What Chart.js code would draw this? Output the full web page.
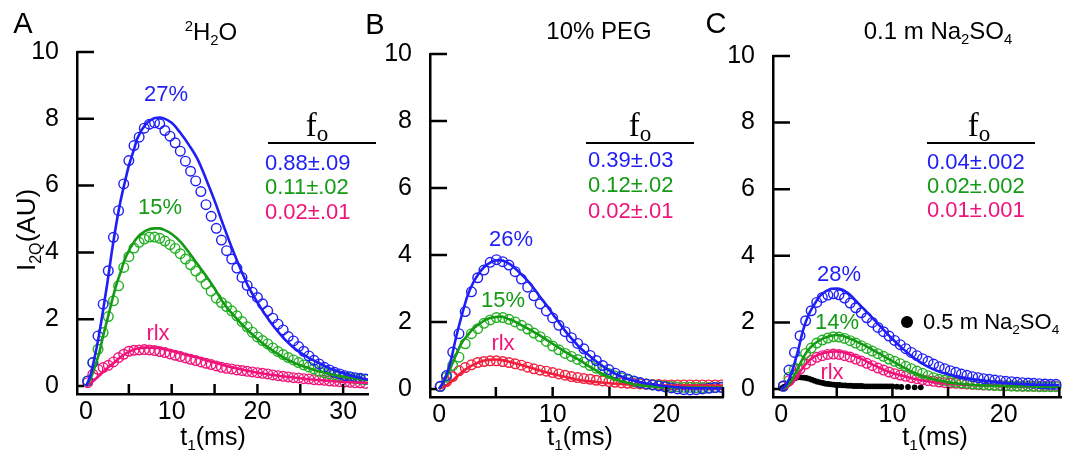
<!DOCTYPE html>
<html>
<head>
<meta charset="utf-8">
<script src="https://cdn.jsdelivr.net/npm/chart.js@4/dist/chart.umd.min.js"></script>
<style>
    body { margin: 0; background: #fff; }
    #wrap { position: relative; width: 1068px; height: 460px; overflow: hidden; background: #fff; }
    #wrap canvas { position: absolute; left: 0; top: 0; }
    .lbl { position: absolute; line-height: 1; white-space: nowrap; transform: translate(-50%, -50%);
           font-family: 'Liberation Sans', Arial, sans-serif; color: #000; z-index: 5; }
    .lbl.left { transform: translate(0, -50%); }
    .lbl.rot { transform: translate(-50%, -50%) rotate(-90deg); }
    .lbl sub { font-size: 0.62em; vertical-align: -0.35em; line-height: 0; }
    .lbl sup { font-size: 0.62em; vertical-align: 0.6em; line-height: 0; }
    .lbl.fo sub { font-size: 0.7em; vertical-align: -0.25em; }
    .rule { position: absolute; height: 2px; background: #000; z-index: 5; }
    .dot { position: absolute; width: 12px; height: 12px; border-radius: 50%; background: #000;
           transform: translate(-50%, -50%); z-index: 5; }
</style>
</head>
<body>
<div id="wrap">
    <canvas id="chartA" width="1068" height="460"></canvas>
    <canvas id="chartB" width="1068" height="460"></canvas>
    <canvas id="chartC" width="1068" height="460"></canvas>
</div>
<script>
// ---- Panel A: 2H2O ----
const tA = [0.2,0.8,1.4,2,2.6,3.2,3.8,4.4,5,5.6,6.2,6.8,7.4,8,8.6,9.2,9.8,10.4,11,11.6,12.2,12.8,13.4,14,14.6,15.2,15.8,16.4,17,17.6,18.2,18.8,19.4,20,20.6,21.2,21.8,22.4,23,23.6,24.2,24.8,25.4,26,26.6,27.2,27.8,28.4,29,29.6,30.2,30.8,31.4,32,32.6];
const blueA = [0.15,0.7,1.5,2.45,3.45,4.45,5.25,6.05,6.75,7.2,7.45,7.72,7.84,7.88,7.85,7.65,7.48,7.28,7.03,6.73,6.43,6.14,5.82,5.43,5.08,4.72,4.37,4.05,3.8,3.53,3.25,3.01,2.81,2.65,2.46,2.25,2.03,1.85,1.68,1.48,1.35,1.18,1.04,0.9,0.77,0.66,0.56,0.48,0.41,0.36,0.31,0.28,0.25,0.23,0.21];
const greenA = [0.15,0.7,1.1,1.6,2.08,2.55,3.0,3.55,3.87,4.13,4.3,4.4,4.46,4.46,4.42,4.34,4.23,4.12,3.96,3.8,3.63,3.44,3.25,3.05,2.84,2.63,2.5,2.38,2.25,2.1,1.93,1.77,1.61,1.47,1.36,1.26,1.14,1.03,0.94,0.85,0.78,0.7,0.63,0.57,0.51,0.44,0.4,0.36,0.33,0.3,0.27,0.25,0.22,0.2,0.19];
const pinkA = [0.1,0.35,0.5,0.55,0.62,0.72,0.85,0.95,1.04,1.07,1.08,1.09,1.08,1.06,1.03,1.0,0.96,0.92,0.88,0.84,0.8,0.76,0.72,0.68,0.64,0.6,0.56,0.53,0.51,0.48,0.46,0.44,0.42,0.4,0.38,0.36,0.33,0.31,0.29,0.27,0.25,0.24,0.22,0.21,0.19,0.18,0.17,0.15,0.14,0.13,0.12,0.11,0.1,0.09,0.08];
const fitTA = [0,0.5,1,1.5,2,2.5,3,3.5,4,4.5,5,5.5,6,7,8,8.6,9,10,11,12,13,14,15,16,17,18,19,20,21,22,23,24,25,26,27,28,29,30,31,32,33];
const blueFitA = [0,0.3,0.85,1.5,2.28,3.1,4.0,4.8,5.5,6.07,6.6,7.0,7.42,7.85,8.02,8.04,8.02,7.88,7.58,7.22,6.8,6.2,5.55,4.83,4.15,3.52,2.95,2.5,2.1,1.75,1.45,1.2,1.0,0.84,0.71,0.58,0.47,0.38,0.3,0.24,0.18];
const greenFitA = [0,0.2,0.55,0.95,1.5,2.0,2.52,3.0,3.38,3.77,4.05,4.27,4.45,4.65,4.72,4.72,4.69,4.55,4.32,4.0,3.65,3.3,2.92,2.5,2.18,1.9,1.64,1.41,1.2,1.02,0.86,0.73,0.62,0.53,0.45,0.39,0.33,0.28,0.24,0.2,0.17];
const pinkFitA = [0,0.08,0.18,0.3,0.42,0.54,0.64,0.75,0.86,0.95,1.03,1.08,1.12,1.15,1.15,1.13,1.11,1.05,0.98,0.91,0.85,0.77,0.7,0.63,0.56,0.5,0.45,0.4,0.36,0.32,0.29,0.26,0.23,0.2,0.18,0.16,0.14,0.12,0.11,0.1,0.09];

// ---- Panel B: 10% PEG ----
const tB = [0.1,0.65,1.2,1.75,2.3,2.85,3.4,3.95,4.5,5.05,5.6,6.15,6.7,7.25,7.8,8.35,8.9,9.45,10,10.55,11.1,11.65,12.2,12.75,13.3,13.85,14.4,14.95,15.5,16.05,16.6,17.15,17.7,18.25,18.8,19.35,19.9,20.45,21,21.55,22.1,22.65,23.2,23.75,24.3,24.85];
const blueB = [0.08,0.4,1.1,1.65,2.31,2.9,3.32,3.55,3.78,3.86,3.8,3.7,3.5,3.28,3.04,2.78,2.54,2.33,2.12,1.9,1.71,1.53,1.36,1.2,1.0,0.85,0.7,0.58,0.47,0.38,0.3,0.24,0.19,0.15,0.12,0.09,0.06,0.03,0.0,-0.02,-0.03,-0.02,0.0,0.02,0.04,0.05];
const greenB = [0.07,0.35,0.7,0.95,1.35,1.65,1.8,1.96,2.06,2.13,2.13,2.08,2.0,1.9,1.79,1.67,1.56,1.42,1.28,1.17,1.06,0.97,0.88,0.8,0.7,0.62,0.54,0.46,0.39,0.33,0.27,0.22,0.18,0.15,0.12,0.1,0.08,0.07,0.06,0.05,0.05,0.04,0.04,0.04,0.04,0.05];
const redB = [0.07,0.22,0.37,0.54,0.64,0.72,0.79,0.82,0.84,0.84,0.82,0.79,0.75,0.71,0.65,0.6,0.56,0.53,0.49,0.45,0.41,0.37,0.34,0.31,0.29,0.26,0.24,0.22,0.2,0.18,0.17,0.16,0.15,0.14,0.13,0.13,0.12,0.12,0.12,0.12,0.12,0.12,0.12,0.12,0.12,0.12];
const fitTB = [0,0.5,1,1.5,2,2.5,3,3.5,4,4.5,5,5.5,6,6.5,7,7.5,8,8.5,9,9.5,10,10.5,11,11.5,12,12.5,13,14,15,16,17,18,19,20,21,22,23,24,25];
const blueFitB = [0,0.3,0.8,1.55,2.2,2.78,3.17,3.45,3.65,3.77,3.84,3.84,3.77,3.66,3.5,3.34,3.15,2.93,2.7,2.48,2.24,2.01,1.78,1.57,1.38,1.2,1.06,0.78,0.55,0.38,0.26,0.18,0.13,0.08,0.05,0.03,0.02,0.02,0.02];
const greenFitB = [0,0.25,0.62,1.02,1.38,1.6,1.8,1.93,2.05,2.12,2.15,2.16,2.1,2.04,1.95,1.86,1.77,1.67,1.57,1.46,1.35,1.24,1.13,1.03,0.93,0.84,0.72,0.52,0.36,0.24,0.15,0.1,0.07,0.05,0.04,0.04,0.04,0.04,0.04];
const redFitB = [0,0.08,0.2,0.35,0.5,0.62,0.72,0.8,0.85,0.87,0.88,0.86,0.83,0.78,0.74,0.69,0.64,0.59,0.54,0.49,0.45,0.41,0.37,0.33,0.29,0.26,0.24,0.2,0.17,0.15,0.13,0.12,0.11,0.1,0.1,0.1,0.1,0.1,0.1];

// ---- Panel C: 0.1 m Na2SO4 ----
const tC = [0.2,0.7,1.2,1.7,2.2,2.7,3.2,3.7,4.2,4.7,5.2,5.7,6.2,6.7,7.2,7.7,8.2,8.7,9.2,9.7,10.2,10.7,11.2,11.7,12.2,12.7,13.2,13.7,14.2,14.7,15.2,15.7,16.2,16.7,17.2,17.7,18.2,18.7,19.2,19.7,20.2,20.7,21.2,21.7,22.2,22.7,23.2,23.7,24.2,24.7];
const blueC = [0.09,0.57,1.1,1.6,2.05,2.35,2.6,2.75,2.82,2.86,2.83,2.73,2.58,2.44,2.29,2.14,2.0,1.85,1.72,1.59,1.46,1.33,1.21,1.1,1.0,0.91,0.83,0.75,0.67,0.61,0.55,0.5,0.45,0.41,0.37,0.34,0.31,0.29,0.27,0.25,0.23,0.22,0.2,0.19,0.18,0.17,0.16,0.15,0.14,0.14];
const greenC = [0.09,0.35,0.6,0.86,1.07,1.23,1.38,1.47,1.53,1.57,1.56,1.52,1.45,1.38,1.3,1.22,1.14,1.06,0.98,0.9,0.83,0.76,0.68,0.61,0.54,0.47,0.4,0.34,0.29,0.26,0.23,0.2,0.18,0.17,0.15,0.14,0.13,0.12,0.11,0.1,0.1,0.09,0.09,0.08,0.08,0.08,0.07,0.07,0.07,0.07];
const pinkC = [0.08,0.25,0.42,0.6,0.75,0.86,0.95,1.0,1.04,1.05,1.04,1.0,0.96,0.9,0.84,0.77,0.7,0.63,0.57,0.51,0.46,0.42,0.38,0.34,0.31,0.28,0.25,0.23,0.21,0.19,0.18,0.17,0.16,0.15,0.14,0.13,0.12,0.12,0.11,0.11,0.1,0.1,0.09,0.09,0.09,0.08,0.08,0.08,0.08,0.08];
const fitTC = [0,0.5,1,1.5,2,2.5,3,3.5,4,4.5,5,5.5,6,6.5,7,7.5,8,8.5,9,9.5,10,11,12,13,14,15,16,17,18,19,20,21,22,23,24,25];
const blueFitC = [0,0.15,0.55,1.13,1.8,2.25,2.55,2.8,2.93,3.01,3.02,2.98,2.88,2.73,2.55,2.38,2.21,2.03,1.85,1.67,1.5,1.19,0.92,0.7,0.55,0.44,0.37,0.31,0.26,0.22,0.18,0.16,0.14,0.13,0.12,0.12];
const greenFitC = [0,0.08,0.28,0.62,0.95,1.2,1.36,1.47,1.55,1.6,1.62,1.6,1.54,1.47,1.39,1.31,1.22,1.12,1.03,0.93,0.84,0.65,0.48,0.35,0.26,0.2,0.16,0.13,0.11,0.1,0.09,0.08,0.08,0.07,0.07,0.07];
const pinkFitC = [0,0.05,0.17,0.42,0.66,0.85,0.97,1.05,1.1,1.12,1.13,1.11,1.06,1.0,0.93,0.86,0.77,0.69,0.61,0.54,0.48,0.39,0.3,0.24,0.19,0.16,0.14,0.12,0.11,0.1,0.09,0.09,0.08,0.08,0.08,0.08];
// 0.5 m Na2SO4 (filled black dots)
const blackT = [0,0.25,0.5,0.75,1,1.25,1.5,1.75,2,2.25,2.5,2.75,3,3.25,3.5,3.75,4,4.25,4.5,4.75,5,5.25,5.5,5.75,6,6.25,6.5,6.75,7,7.25,7.5,7.75,8,8.25,8.5,8.75,9,9.25,9.5,9.75,10,10.4,10.8,11.4,12,12.55];
const blackV = [0.02,0.06,0.12,0.2,0.27,0.32,0.35,0.35,0.34,0.33,0.31,0.28,0.25,0.22,0.2,0.18,0.16,0.15,0.14,0.13,0.12,0.12,0.11,0.11,0.1,0.1,0.09,0.09,0.09,0.09,0.08,0.08,0.08,0.08,0.08,0.08,0.08,0.08,0.08,0.08,0.08,0.07,0.06,0.06,0.05,0.05];

// axis ticks
const yTicks = [0, 2, 4, 6, 8, 10];
const xLabelsA = [0, 10, 20, 30];
const xMarksA = [5, 10, 15, 20, 25, 30];
const xLabelsBC = [0, 10, 20];
const xMarksBC = [5, 10, 15, 20, 25];

const BLUE = '#1e1ef5';
const GREEN_PT = '#22b022';
const GREEN_LN = '#149a14';
const PINK = '#f0147a';
const RED = '#f01e3c';
const FONT = "'Liberation Sans', Arial, sans-serif";

function toPoints(t, v) {
    return t.map((x, i) => ({ x: x, y: v[i] }));
}

// open circles
function circles(t, v, color) {
    return {
        data: toPoints(t, v),
        showLine: false,
        pointStyle: 'circle',
        pointRadius: 4.8,
        pointBorderWidth: 1.4,
        pointBorderColor: color,
        pointBackgroundColor: 'rgba(0,0,0,0)',
        order: 2
    };
}

// solid fitted curve
function fitLine(t, v, color) {
    return {
        data: toPoints(t, v),
        showLine: true,
        borderColor: color,
        borderWidth: 2.6,
        pointRadius: 0,
        cubicInterpolationMode: 'monotone',
        order: 1
    };
}

// ticks drawn inside the plot, like the original
const inwardTicks = {
    id: 'inwardTicks',
    afterDraw(chart, args, opts) {
        const { ctx, chartArea, scales } = chart;
        ctx.save();
        ctx.strokeStyle = '#000';
        ctx.lineWidth = 2.5;
        ctx.beginPath();
        opts.x.forEach(v => {
            const px = scales.x.getPixelForValue(v);
            ctx.moveTo(px, chartArea.bottom);
            ctx.lineTo(px, chartArea.bottom - 10);
        });
        opts.y.forEach(v => {
            const py = scales.y.getPixelForValue(v);
            ctx.moveTo(chartArea.left, py);
            ctx.lineTo(chartArea.left + (v === 0 ? 7 : 17), py);
        });
        ctx.stroke();
        ctx.restore();
    }
};

function makePanel(id, cfg) {
    new Chart(document.getElementById(id), {
        type: 'scatter',
        data: { datasets: cfg.datasets },
        plugins: [inwardTicks],
        options: {
            responsive: false,
            animation: false,
            layout: { padding: cfg.padding },
            plugins: {
                legend: { display: false },
                tooltip: { enabled: false },
                inwardTicks: { x: cfg.xMarks, y: yTicks }
            },
            scales: {
                x: {
                    type: 'linear',
                    min: cfg.xMin,
                    max: cfg.xMax,
                    afterBuildTicks: s => { s.ticks = cfg.xLabels.map(v => ({ value: v })); },
                    afterFit: s => { s.height = 60; },
                    grid: { display: false },
                    border: { display: true, color: '#000', width: 2.5 },
                    ticks: { color: '#000', padding: -5, maxRotation: 0, font: { family: FONT, size: 25 } }
                },
                y: {
                    type: 'linear',
                    min: -0.24,
                    max: 10,
                    afterBuildTicks: s => { s.ticks = yTicks.map(v => ({ value: v })); },
                    afterFit: s => { s.width = 60; },
                    grid: { display: false },
                    border: { display: true, color: '#000', width: 2.5 },
                    ticks: { color: '#000', padding: 10, font: { family: FONT, size: 25 } }
                }
            }
        }
    });
}

makePanel('chartA', {
    padding: { left: 17, right: 700, top: 52, bottom: 6 },
    xMin: -1.05, xMax: 32.9, xLabels: xLabelsA, xMarks: xMarksA,
    datasets: [
        fitLine(fitTA, blueFitA, BLUE),
        fitLine(fitTA, greenFitA, GREEN_LN),
        fitLine(fitTA, pinkFitA, PINK),
        circles(tA, blueA, BLUE),
        circles(tA, greenA, GREEN_PT),
        circles(tA, pinkA, PINK)
    ]
});

makePanel('chartB', {
    padding: { left: 370, right: 345, top: 54, bottom: 3 },
    xMin: -0.8, xMax: 25, xLabels: xLabelsBC, xMarks: xMarksBC,
    datasets: [
        fitLine(fitTB, blueFitB, BLUE),
        fitLine(fitTB, greenFitB, GREEN_LN),
        fitLine(fitTB, redFitB, RED),
        circles(tB, blueB, BLUE),
        circles(tB, greenB, GREEN_PT),
        circles(tB, redB, RED)
    ]
});

const blackDots = {
    data: toPoints(blackT, blackV),
    showLine: false,
    pointRadius: 2.9,
    pointBorderWidth: 0,
    pointBackgroundColor: '#000',
    order: 3
};

makePanel('chartC', {
    padding: { left: 713, right: 1, top: 56, bottom: 3 },
    xMin: -0.73, xMax: 25.22, xLabels: xLabelsBC, xMarks: xMarksBC,
    datasets: [
        fitLine(fitTC, blueFitC, BLUE),
        fitLine(fitTC, greenFitC, GREEN_LN),
        fitLine(fitTC, pinkFitC, PINK),
        circles(tC, blueC, BLUE),
        circles(tC, greenC, GREEN_PT),
        circles(tC, pinkC, PINK),
        blackDots
    ]
});

// ---- text overlays ----
const wrap = document.getElementById('wrap');

function addText(html, x, y, size, color, extra) {
    const el = document.createElement('div');
    el.className = 'lbl' + (extra ? ' ' + extra : '');
    el.innerHTML = html;
    el.style.left = x + 'px';
    el.style.top = y + 'px';
    el.style.fontSize = size + 'px';
    if (color) el.style.color = color;
    wrap.appendChild(el);
    return el;
}

function addRule(x, y, w) {
    const el = document.createElement('div');
    el.className = 'rule';
    el.style.left = x + 'px';
    el.style.top = y + 'px';
    el.style.width = w + 'px';
    wrap.appendChild(el);
}

// panel letters and titles
addText('A', 23, 23, 29);
addText('B', 375, 24, 29);
addText('C', 716, 23, 29);
addText('<sup>2</sup>H<sub>2</sub>O', 211, 32, 24);
addText('10% PEG', 599, 31, 24);
addText('0.1 m Na<sub>2</sub>SO<sub>4</sub>', 938, 31, 24);

// axis titles
addText('t<sub>1</sub>(ms)', 213, 436, 25);
addText('t<sub>1</sub>(ms)', 580, 436, 25);
addText('t<sub>1</sub>(ms)', 935, 436, 25);
addText('I<sub>2Q</sub>(AU)', 26, 230, 26, null, 'rot');

// curve labels
addText('27%', 166, 94, 22, BLUE);
addText('15%', 160, 207, 22, GREEN_LN);
addText('rlx', 158, 333, 22, PINK);
addText('26%', 511, 239, 22, BLUE);
addText('15%', 503, 300, 22, GREEN_LN);
addText('rlx', 503, 343, 22, PINK);
addText('28%', 839, 274, 22, BLUE);
addText('14%', 837, 322, 22, GREEN_LN);
addText('rlx', 832, 372, 22, PINK);

// f_o tables
const foCols = [
    { fx: 317, rx: 268, vx: 265, vals: ['0.88±.09', '0.11±.02', '0.02±.01'], ys: [163, 187, 212] },
    { fx: 640, rx: 586, vx: 588, vals: ['0.39±.03', '0.12±.02', '0.02±.01'], ys: [160, 185, 211] },
    { fx: 979, rx: 927, vx: 927, vals: ['0.04±.002', '0.02±.002', '0.01±.001'], ys: [162, 186, 210] }
];
const foColors = [BLUE, GREEN_LN, PINK];
foCols.forEach(c => {
    const f = addText('f<sub>o</sub>', c.fx, 125, 33, null, 'fo');
    f.style.fontFamily = "'Liberation Serif', 'Times New Roman', serif";
    addRule(c.rx, 142, 108);
    c.vals.forEach((v, i) => addText(v, c.vx, c.ys[i], 22, foColors[i], 'left'));
});

// legend for the black dots
const dot = document.createElement('div');
dot.className = 'dot';
dot.style.left = '907px';
dot.style.top = '322px';
wrap.appendChild(dot);
addText('0.5 m Na<sub>2</sub>SO<sub>4</sub>', 923, 322, 22, null, 'left');
</script>
</body>
</html>
